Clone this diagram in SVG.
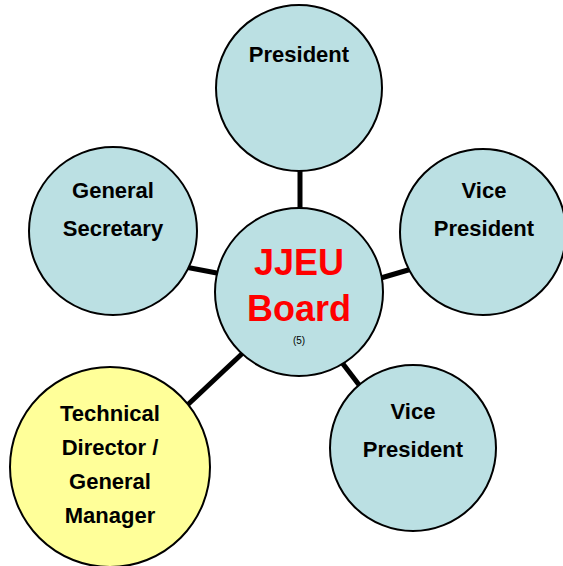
<svg xmlns="http://www.w3.org/2000/svg" width="563" height="566" viewBox="0 0 563 566">
<style>
.c{fill:#BBE0E3;stroke:#000;stroke-width:2}
.y{fill:#FFFF99;stroke:#000;stroke-width:2}
.t{font-family:"Liberation Sans",Arial,sans-serif;font-weight:700;font-size:22px;fill:#000;text-anchor:middle}
.r{font-family:"Liberation Sans",Arial,sans-serif;font-weight:700;font-size:36px;fill:#FF0000;text-anchor:middle}
.s{font-family:"Liberation Sans",Arial,sans-serif;font-size:10px;fill:#000;text-anchor:middle}
.k{stroke:#000;stroke-width:5;fill:none}
</style>
<g id="connectors">
<line class="k" x1="300" y1="170" x2="300" y2="215"/>
<line class="k" x1="180" y1="266" x2="222" y2="274"/>
<line class="k" x1="374" y1="280" x2="415" y2="268"/>
<line class="k" x1="340" y1="360" x2="366" y2="394"/>
<line class="k" x1="180" y1="412" x2="246" y2="350"/>
</g>
<g id="president"><circle class="c" cx="299" cy="88" r="83"/><text class="t" x="299" y="62">President</text></g>
<g id="vp1"><circle class="c" cx="483" cy="232" r="83"/><text class="t" x="484" y="198">Vice</text><text class="t" x="484" y="236">President</text></g>
<g id="gensec"><circle class="c" cx="113" cy="231" r="84"/><text class="t" x="113" y="198">General</text><text class="t" x="113" y="236">Secretary</text></g>
<g id="vp2"><circle class="c" cx="413" cy="448" r="83"/><text class="t" x="413" y="419">Vice</text><text class="t" x="413" y="457">President</text></g>
<g id="techdir"><circle class="y" cx="110" cy="467" r="100"/><text class="t" x="110" y="421">Technical</text><text class="t" x="110" y="455">Director /</text><text class="t" x="110" y="489">General</text><text class="t" x="110" y="523">Manager</text></g>
<g id="board"><circle class="c" cx="299" cy="292" r="84"/><text class="r" x="299" y="275">JJEU</text><text class="r" x="299" y="321">Board</text><text class="s" x="299" y="344">(5)</text></g>
</svg>
